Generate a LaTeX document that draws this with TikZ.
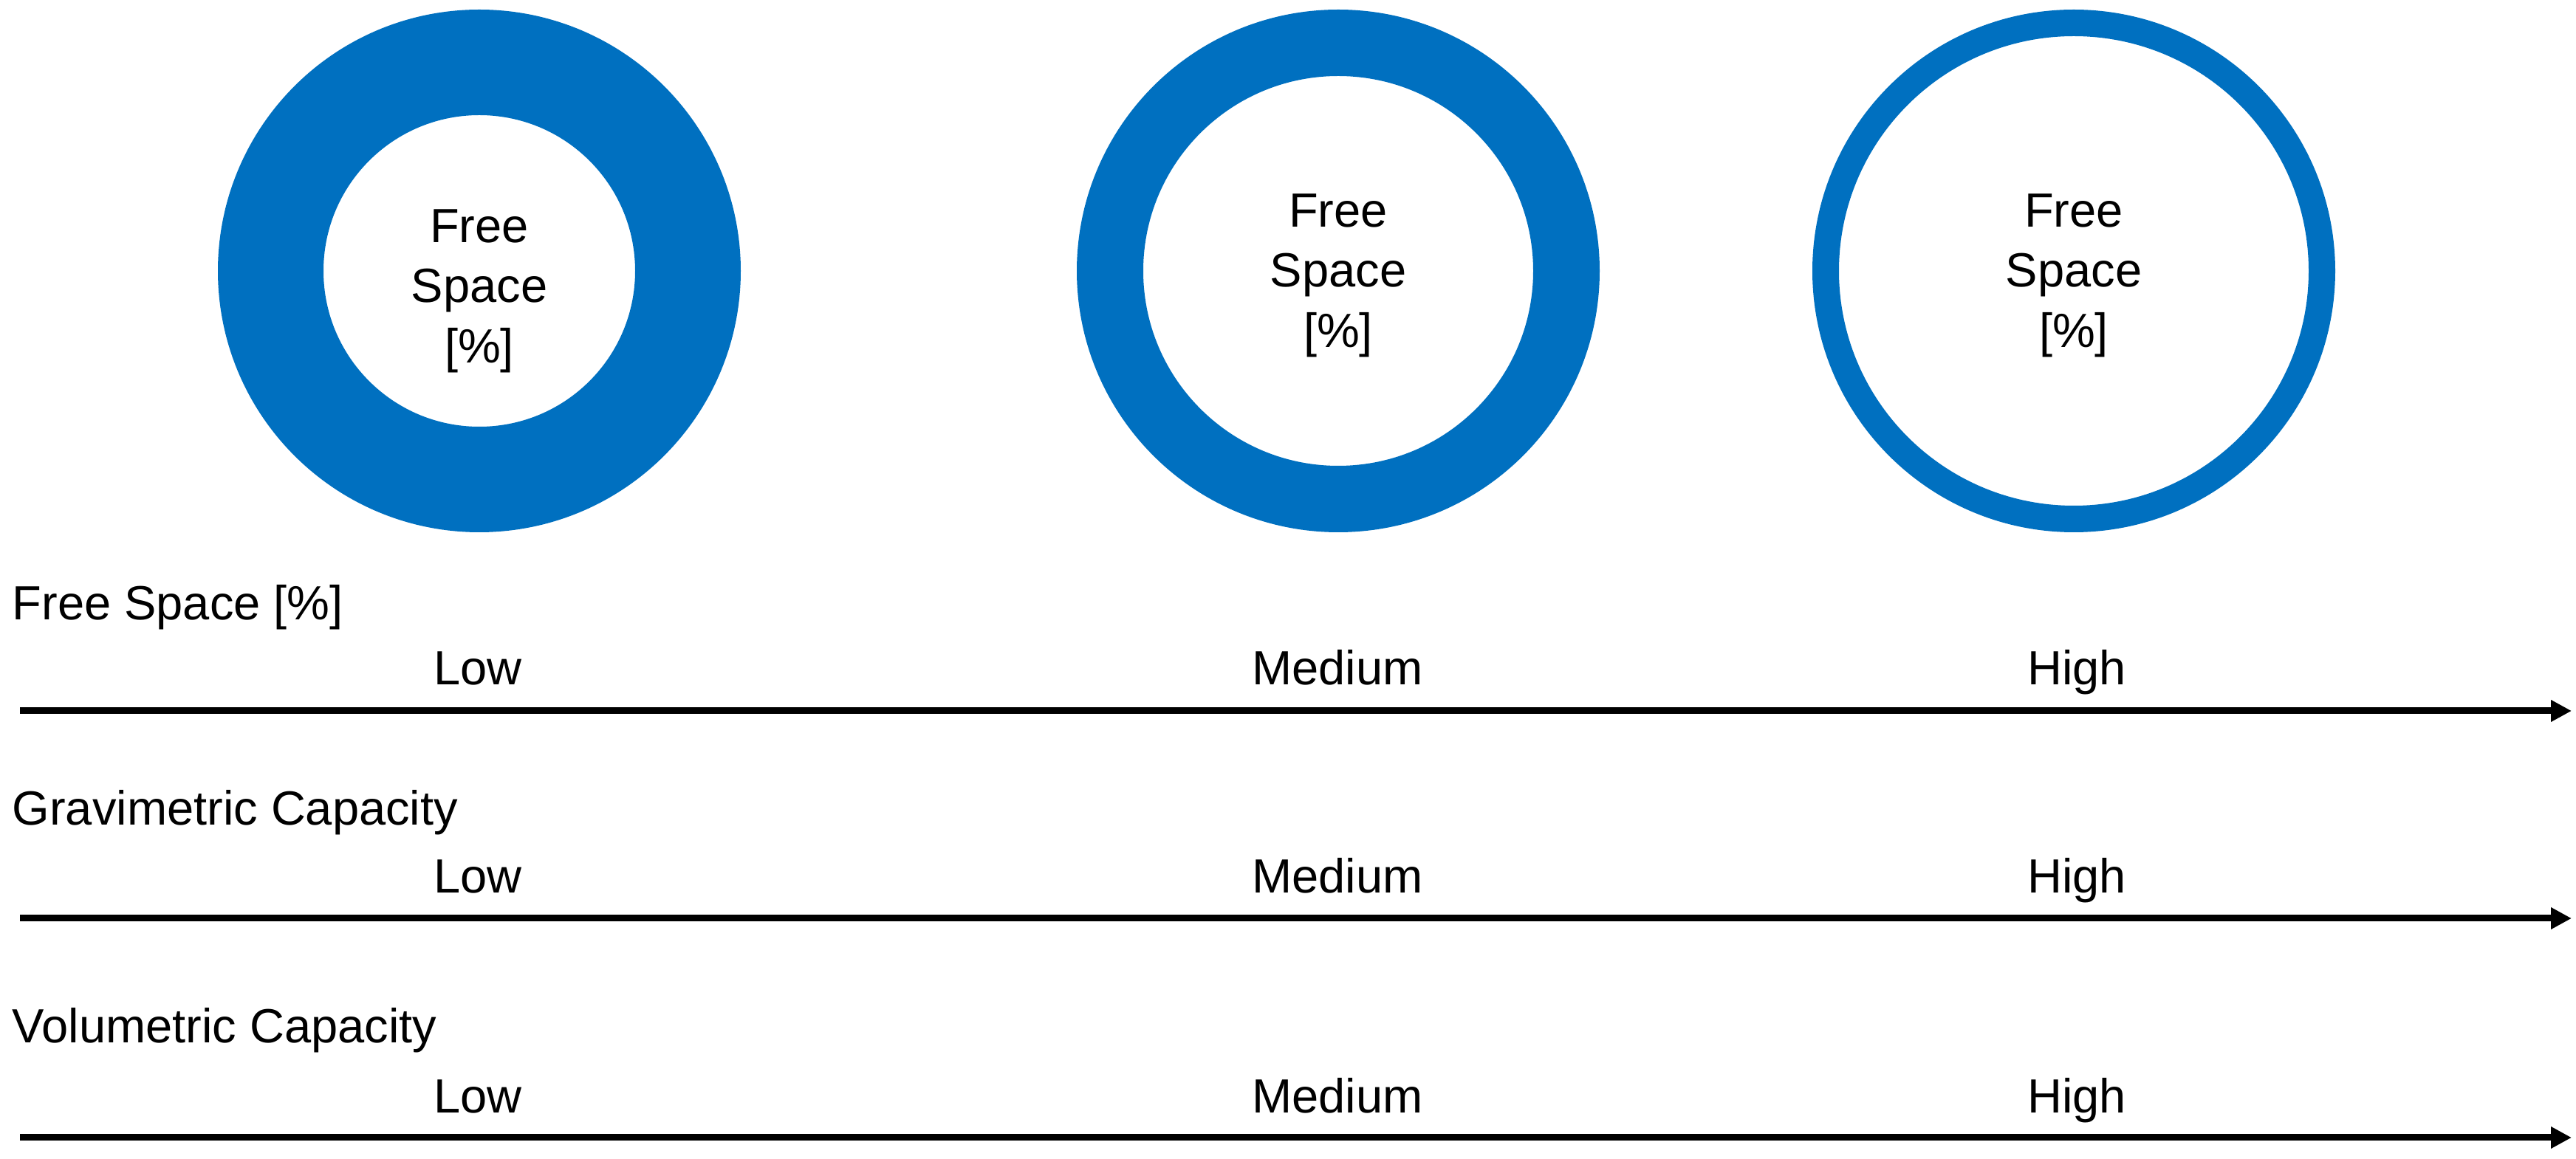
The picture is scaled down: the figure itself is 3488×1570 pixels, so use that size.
\documentclass[tikz,border=0pt]{standalone}
\usepackage{fontspec}
\setmainfont{Liberation Sans}
\usetikzlibrary{arrows.meta}
\definecolor{ringblue}{RGB}{0,112,192}
\begin{document}
\begin{tikzpicture}[x=0.1mm,y=-0.1mm,
  ring/.style={circle, draw=ringblue, inner sep=0pt, outer sep=0pt},
  ctext/.style={align=center, inner sep=0pt, font=\fontsize{18.5}{23.2}\selectfont},
  lbl/.style={anchor=base west, inner sep=0pt, font=\fontsize{18.5}{23.2}\selectfont},
  lvl/.style={anchor=base, inner sep=0pt, font=\fontsize{18.5}{23.2}\selectfont},
  axis/.style={line width=0.9mm, -{Triangle[length=2.8mm,width=2.8mm]}}]
\useasboundingbox (0,0) rectangle (3488,1570);
\fill[white] (0,0) rectangle (3488,1570);

% rings
\node[ring, line width=14.3mm, minimum size=56.5mm] (r1) at (649,367) {};
\node[ring, line width=9mm, minimum size=61.8mm] (r2) at (1812,367) {};
\node[ring, line width=3.6mm, minimum size=67.2mm] (r3) at (2808,367) {};

\node[ctext] (t1) at (649,394) {Free\\Space\\\relax[\%]};
\node[ctext] (t2) at (1812,373) {Free\\Space\\\relax[\%]};
\node[ctext] (t3) at (2808,373) {Free\\Space\\\relax[\%]};

% row 1
\node[lbl] (l1) at (16,840) {Free Space [\%]};
\node[lvl] (lo1) at (647,928) {Low};
\node[lvl] (me1) at (1811,928) {Medium};
\node[lvl] (hi1) at (2812,928) {High};
\coordinate (a1s) at (27,963);
\coordinate (a1e) at (3482,963);
\draw[axis] (a1s) -- (a1e);

% row 2
\node[lbl] (l2) at (16,1118) {Gravimetric Capacity};
\node[lvl] (lo2) at (647,1210) {Low};
\node[lvl] (me2) at (1811,1210) {Medium};
\node[lvl] (hi2) at (2812,1210) {High};
\coordinate (a2s) at (27,1244);
\coordinate (a2e) at (3482,1244);
\draw[axis] (a2s) -- (a2e);

% row 3
\node[lbl] (l3) at (16,1413) {Volumetric Capacity};
\node[lvl] (lo3) at (647,1508) {Low};
\node[lvl] (me3) at (1811,1508) {Medium};
\node[lvl] (hi3) at (2812,1508) {High};
\coordinate (a3s) at (27,1541);
\coordinate (a3e) at (3482,1541);
\draw[axis] (a3s) -- (a3e);
\end{tikzpicture}
\end{document}
